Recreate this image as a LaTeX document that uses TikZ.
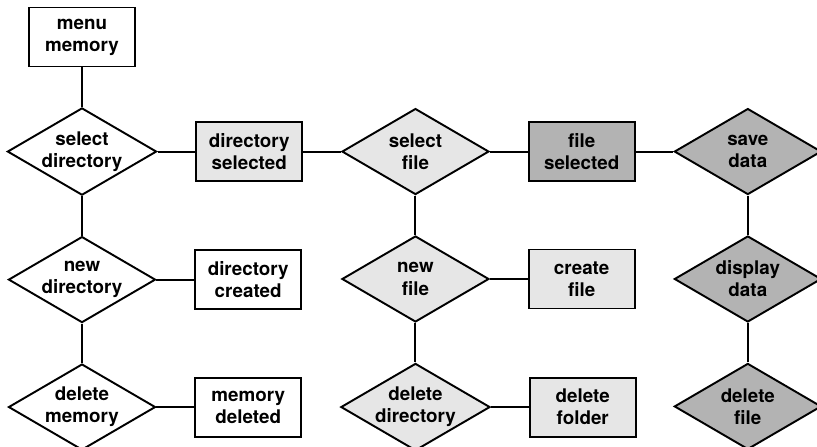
\documentclass[tikz,border=0pt]{standalone}
\usepackage{fontspec}
\setmainfont{TeX Gyre Heros}
\usepackage{xcolor}
\usepackage{tikz}
\usetikzlibrary{positioning,shapes.geometric}

\definecolor{lightfill}{HTML}{E6E6E6}
\definecolor{darkfill}{HTML}{B3B3B3}

\begin{document}
\begin{tikzpicture}[
  line width=1.1pt,
  node distance=0.79cm and 0.755cm,
  every node/.style={font=\fontsize{10.7}{12.6}\selectfont\bfseries,align=center},
  box/.style={draw,minimum width=2.12cm,minimum height=1.18cm,inner sep=0pt},
  dia/.style={draw,diamond,aspect=1.71,minimum width=2.94cm,minimum height=1.72cm,inner sep=0pt}
]
\useasboundingbox (-1.64,0.74) rectangle (14.7,-8.18);
% memory column
\node[box] (menu) {menu\\memory};
\node[dia,below=of menu] (seldir) {select\\directory};
\node[dia,below=of seldir] (newdir) {new\\directory};
\node[dia,below=of newdir] (delmem) {delete\\memory};
\node[box,fill=lightfill,right=of seldir] (dirsel) {directory\\selected};
\node[box,right=of newdir] (dircre) {directory\\created};
\node[box,right=of delmem] (memdel) {memory\\deleted};
% file column
\node[dia,fill=lightfill,right=of dirsel] (selfile) {select\\file};
\node[dia,fill=lightfill,below=of selfile] (newfile) {new\\file};
\node[dia,fill=lightfill,below=of newfile] (deldir) {delete\\directory};
\node[box,fill=darkfill,right=of selfile] (filesel) {file\\selected};
\node[box,fill=lightfill,right=of newfile] (crefile) {create\\file};
\node[box,fill=lightfill,right=of deldir] (delfold) {delete\\folder};
% data column
\node[dia,fill=darkfill,right=of filesel] (savedata) {save\\data};
\node[dia,fill=darkfill,below=of savedata] (dispdata) {display\\data};
\node[dia,fill=darkfill,below=of dispdata] (delfile) {delete\\file};
\draw (menu)--(seldir)--(newdir)--(delmem);
\draw (seldir)--(dirsel)--(selfile)--(filesel)--(savedata);
\draw (newdir)--(dircre); \draw (delmem)--(memdel);
\draw (selfile)--(newfile)--(deldir);
\draw (newfile)--(crefile); \draw (deldir)--(delfold);
\draw (savedata)--(dispdata)--(delfile);
\end{tikzpicture}
\end{document}
